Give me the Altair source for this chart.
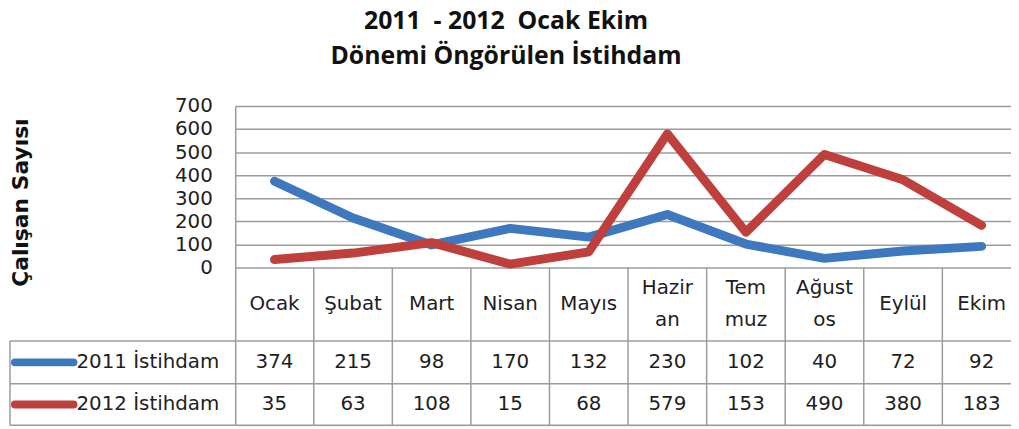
import altair as alt
import pandas as pd

# ---------------- data ----------------
months = ["Ocak", "Şubat", "Mart", "Nisan", "Mayıs", "Haziran", "Temmuz", "Ağustos", "Eylül", "Ekim"]
header_labels = ["Ocak", "Şubat", "Mart", "Nisan", "Mayıs", "Hazir\nan", "Tem\nmuz", "Ağust\nos", "Eylül", "Ekim"]
series = ["2011 İstihdam", "2012 İstihdam"]
values_2011 = [374, 215, 98, 170, 132, 230, 102, 40, 72, 92]
values_2012 = [35, 63, 108, 15, 68, 579, 153, 490, 380, 183]
y_ticks = [0, 100, 200, 300, 400, 500, 600, 700]
title_main = "2011\u00a0\u00a0- 2012\u00a0\u00a0Ocak Ekim"
title_sub = "Dönemi Öngörülen İstihdam"
y_title = "Çalışan Sayısı"
colors = ["#3E78BE", "#BE3F3C"]

# ---------------- layout (pixels) ----------------
COL_W = 79.2
N = len(months)
PLOT_W = 782.0            # visible part of the plot (last column runs off the edge)
X_VIS = PLOT_W / COL_W    # visible columns
CHART_PX = 163.0          # height of the 0..700 plot part
HDR_PX = 74.0
ROW_PX = [43.0, 42.0]
LEG_PX = 227.0
HDR_LH = 32.0             # line height of wrapped header labels
U = 700.0 / CHART_PX      # y data units per pixel
XU = 1.0 / COL_W          # x data units per pixel

y_hdr = -HDR_PX * U
y_r1 = y_hdr - ROW_PX[0] * U
y_r2 = y_r1 - ROW_PX[1] * U
y_bottom = y_r2
PLOT_H = CHART_PX + HDR_PX + sum(ROW_PX)
x_leg = -LEG_PX * XU

GRID = "#9C9C9C"
TXT = "#1E1E1E"
FONT = "DejaVu Sans"
FS = 20

xs = alt.Scale(domain=[0, X_VIS], nice=False, zero=False)
ys = alt.Scale(domain=[y_bottom, 700], nice=False, zero=False)
cs = alt.Scale(domain=series, range=colors)

y_axis = alt.Axis(
    values=y_ticks, grid=True, gridColor=GRID, gridWidth=1.5, ticks=False,
    domain=True, domainColor=GRID, domainWidth=1.5,
    labelFont=FONT, labelFontSize=FS, labelColor=TXT, labelPadding=23,
    titleFont="DejaVu Sans", titleFontSize=22, titleFontWeight="bold",
    titleColor="#111111", titleAngle=270, titleX=-216, titleY=97,
    titleAlign="center", titleBaseline="middle",
)


def X(field):
    return alt.X(field, type="quantitative", scale=xs, axis=None)


def Y(field):
    return alt.Y(field, type="quantitative", scale=ys, axis=y_axis, title=y_title)


# ---------------- frames ----------------
line_rows = []
for s, vals in zip(series, [values_2011, values_2012]):
    for i, (m, v) in enumerate(zip(months, vals)):
        line_rows.append({"series": s, "month": m, "xc": i + 0.5, "value": v})
lines_df = pd.DataFrame(line_rows)

row_centers = [(y_hdr + y_r1) / 2, (y_r1 + y_r2) / 2]

cell_rows = []
for r, vals in enumerate([values_2011, values_2012]):
    for i, v in enumerate(vals):
        cell_rows.append({"xc": i + 0.5, "yc": row_centers[r], "label": str(v)})
cells_df = pd.DataFrame(cell_rows)

hdr_df = pd.DataFrame({
    "xc": [i + 0.5 for i in range(N)],
    "yc": [y_hdr / 2 + (lab.count("\n")) / 2 * HDR_LH * U for lab in header_labels],
    "label": header_labels,
})

leg_df = pd.DataFrame({
    "series": series,
    "x1": [x_leg + 5 * XU] * 2,
    "x2": [x_leg + 64 * XU] * 2,
    "xt": [x_leg + 67 * XU] * 2,
    "yc": row_centers,
})

h_df = pd.DataFrame({
    "x1": [x_leg, x_leg, x_leg],
    "x2": [X_VIS] * 3,
    "y": [y_hdr, y_r1, y_r2],
})
v_df = pd.DataFrame(
    [{"x": float(i), "y1": 0.0, "y2": y_bottom} for i in range(1, N)]
    + [{"x": x_leg, "y1": y_hdr, "y2": y_bottom}]
)

# ---------------- layers ----------------
hrules = alt.Chart(h_df).mark_rule(color=GRID, strokeWidth=1.5).encode(
    x=X("x1"), x2="x2:Q", y=Y("y")
)
vrules = alt.Chart(v_df).mark_rule(color=GRID, strokeWidth=1.5).encode(
    x=X("x"), y=Y("y1"), y2="y2:Q"
)
lines = alt.Chart(lines_df).mark_line(strokeWidth=9, strokeCap="round", strokeJoin="round").encode(
    x=X("xc"), y=Y("value"),
    color=alt.Color("series:N", scale=cs, legend=None),
)
leg_rules = alt.Chart(leg_df).mark_rule(strokeWidth=8, strokeCap="round").encode(
    x=X("x1"), x2="x2:Q", y=Y("yc"), color=alt.Color("series:N", scale=cs, legend=None)
)
hdr_text = alt.Chart(hdr_df).mark_text(font=FONT, fontSize=FS, color=TXT, baseline="middle",
                                       align="center", lineBreak="\n", lineHeight=HDR_LH).encode(
    x=X("xc"), y=Y("yc"), text="label:N"
)
cell_text = alt.Chart(cells_df).mark_text(font=FONT, fontSize=FS, color=TXT, baseline="middle",
                                          align="center").encode(
    x=X("xc"), y=Y("yc"), text="label:N"
)
leg_text = alt.Chart(leg_df).mark_text(font=FONT, fontSize=FS, color=TXT, baseline="middle",
                                       align="left").encode(
    x=X("xt"), y=Y("yc"), text="series:N"
)

chart = alt.layer(hrules, vrules, lines, leg_rules, hdr_text, cell_text, leg_text).properties(
    width=PLOT_W,
    height=PLOT_H,
    title=alt.TitleParams(
        title_main, subtitle=title_sub,
        font="Open Sans", fontSize=25, fontWeight="bold", color="#111111",
        subtitleFont="Open Sans", subtitleFontSize=25, subtitleFontWeight="bold",
        subtitleColor="#111111", subtitlePadding=11,
        anchor="middle", dx=-118, offset=27,
    ),
    autosize=alt.AutoSizeParams(type="none"),
    padding={"left": 229, "top": 97, "right": 0, "bottom": 2},
).configure_view(stroke=None).configure(background="white")

chart.save("out.html", embed_options={"renderer": "svg", "actions": False})
